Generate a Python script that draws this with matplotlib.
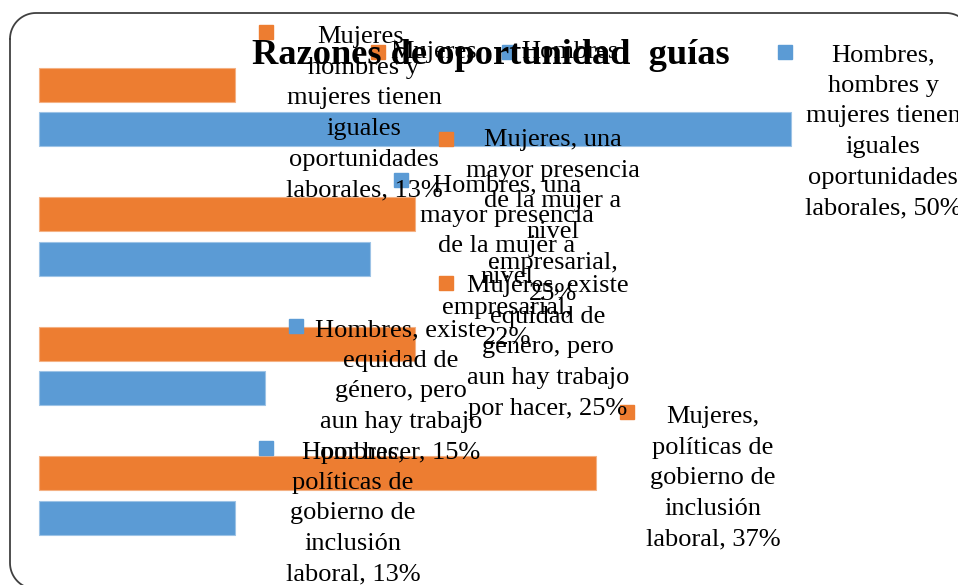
import numpy as np
import matplotlib.pyplot as plt
from matplotlib.patches import Rectangle
from matplotlib.lines import Line2D

# Data (top to bottom)
categorias = [
    "hombres y mujeres tienen iguales oportunidades laborales",
    "una mayor presencia de la mujer a nivel empresarial",
    "existe equidad de género, pero aun hay trabajo por hacer",
    "políticas de gobierno de inclusión laboral",
]
mujeres = [13, 25, 25, 37]
hombres = [50, 22, 15, 13]

# label text as wrapped in the original chart
plantillas = [
    "{s},\nhombres y\nmujeres tienen\niguales\noportunidades\nlaborales, {v}%",
    "{s}, una\nmayor presencia\nde la mujer a\nnivel\nempresarial,\n{v}%",
    "{s}, existe\nequidad de\ngénero, pero\naun hay trabajo\npor hacer, {v}%",
    "{s},\npolíticas de\ngobierno de\ninclusión\nlaboral, {v}%",
]

# where the (moved) data labels sit, in pixels: text centre x, first line y, key square x, y
pos_mujeres = [(364, 37, 259, 25), (553, 140, 439, 132), (548, 286, 439, 276), (713, 417, 620, 405)]
pos_hombres = [(883, 55, 778, 45), (507, 185, 394, 173), (401, 330, 289, 319), (353, 452, 259, 441)]

NARANJA = "#ED7D31"
AZUL = "#5B9BD5"
W, H = 958, 585
FUENTE = "Liberation Serif"
PASO = 30.7

fig = plt.figure(figsize=(W / 100, H / 100), dpi=100)
ax = fig.add_axes([0, 0, 1, 1])

escala = 15.04   # px per percent
x0 = 39.3
ax.set_xlim(-x0 / escala, (W - x0) / escala)
paso_cat = 129.5
y0 = 107
ax.set_ylim((H - y0) / paso_cat, -y0 / paso_cat)
ax.axis("off")

ys = list(range(len(categorias)))
ax.barh([y - 0.17 for y in ys], mujeres, height=0.2625, color=NARANJA,
        edgecolor="#F4B183", linewidth=0.8, label="Mujeres")
ax.barh([y + 0.17 for y in ys], hombres, height=0.2625, color=AZUL,
        edgecolor="#9DC3E6", linewidth=0.8, label="Hombres")


def px(x, y):
    return x / W, 1 - y / H


def etiqueta(texto, pos, color):
    cx, cy, sx, sy = pos
    fig.add_artist(Rectangle(px(sx, sy + 14), 14 / W, 14 / H, color=color,
                             transform=fig.transFigure))
    for k, linea in enumerate(texto.split("\n")):
        fig.text(*px(cx, cy + k * PASO), linea, ha="center", va="center",
                 fontsize=19, family=FUENTE, color="black")


for i in ys:
    etiqueta(plantillas[i].format(s="Mujeres", v=mujeres[i]), pos_mujeres[i], NARANJA)
    etiqueta(plantillas[i].format(s="Hombres", v=hombres[i]), pos_hombres[i], AZUL)

# legend (drawn by hand like the original, overlapping the title)
for sx, nombre, color in [(371, "Mujeres", NARANJA), (502, "Hombres", AZUL)]:
    fig.add_artist(Rectangle(px(sx, 59), 14 / W, 14 / H, color=color,
                             transform=fig.transFigure))
    fig.text(*px(sx + 19, 52), nombre, ha="left", va="center",
             fontsize=19, family=FUENTE)

fig.text(*px(491, 56), "Razones de oportunidad  guías", ha="center", va="center",
         fontsize=26.2, fontweight="bold", family=FUENTE)

# rounded frame in pixels (right and bottom edges run off the picture)
izq, arriba, der, abajo, r = 10, 13, 972, 589, 26
t = np.linspace(0, np.pi / 2, 20)
xs = np.concatenate([izq + r - r * np.cos(t), der - r + r * np.sin(t),
                     der - r + r * np.cos(t), izq + r - r * np.sin(t), [izq]])
yy = np.concatenate([arriba + r - r * np.sin(t), arriba + r - r * np.cos(t),
                     abajo - r + r * np.sin(t), abajo - r + r * np.cos(t), [arriba + r]])
fig.add_artist(Line2D(xs / W, 1 - yy / H, color="#404040", linewidth=1.3,
                      transform=fig.transFigure))

fig.savefig("out.png", dpi=100)
